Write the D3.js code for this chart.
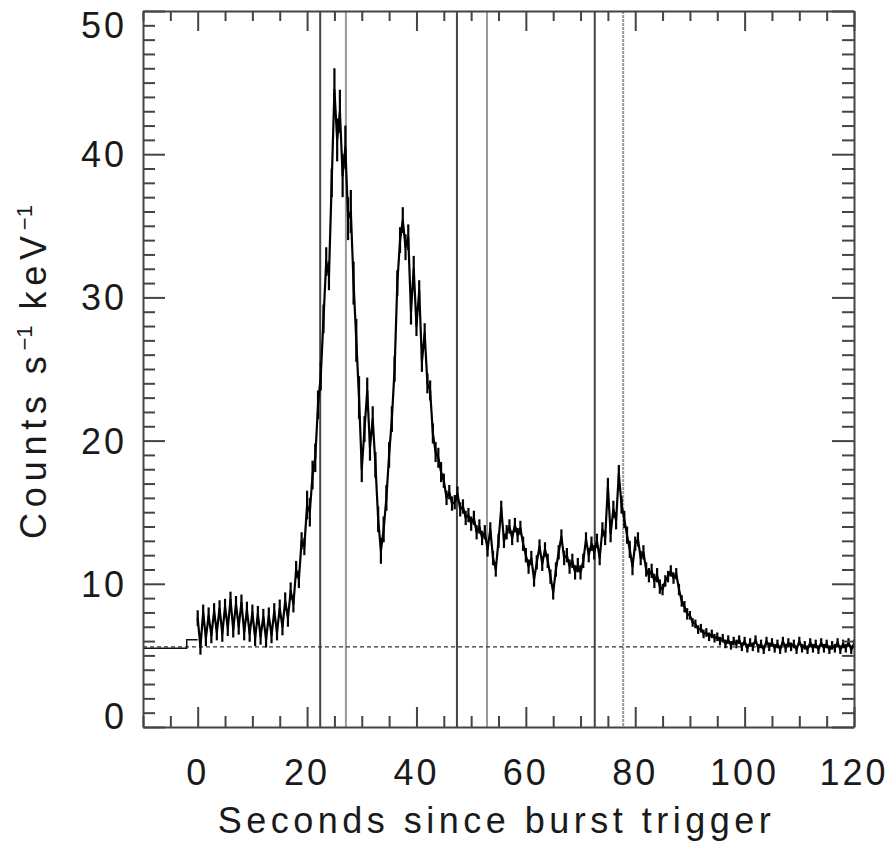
<!DOCTYPE html>
<html>
<head>
<meta charset="utf-8">
<script src="https://cdn.jsdelivr.net/npm/d3@7"></script>
<style>
  body { margin: 0; background: #fff; }
  text { font-family: "Liberation Sans", Arial, sans-serif; fill: #1a1a1a; }
</style>
</head>
<body>
<svg id="chart"></svg>
<script>
// pre-trigger background bins (coarse, drawn as steps)
var preTime = [-10, -2];
var preCounts = [5.5, 6.1];

// light curve after trigger, one value every 0.5 s from t = 0 to 120
var tStart = 0, tStep = 0.5;
var counts = [
  7.6, 5.6, 8.0, 6.2, 7.8, 6.4, 8.1, 6.6, 8.3, 6.5,
  8.4, 6.9, 8.9, 6.8, 8.6, 7.0, 8.7, 6.6, 8.2, 6.5,
  8.0, 6.2, 7.9, 6.3, 7.7, 6.1, 7.8, 6.4, 8.1, 6.6,
  8.3, 7.0, 8.8, 7.6, 9.5, 8.6, 11.0, 10.3, 13.0, 12.6,
  15.5, 15.0, 17.6, 18.8, 22.5, 24.5, 28.5, 32.5, 31.5, 38.0,
  44.5, 41.0, 43.0, 38.5, 40.5, 35.5, 36.0, 31.0, 27.0, 23.0,
  18.0, 20.8, 23.5, 19.5, 21.5, 18.3, 14.5, 12.3, 13.8, 16.0,
  19.0, 21.5, 25.0, 31.0, 34.0, 35.4, 33.5, 34.2, 29.0, 32.0,
  28.0, 30.5, 25.5, 27.5, 24.0, 23.5, 20.5, 19.2, 18.8, 17.8,
  17.2, 16.0, 16.4, 15.6, 15.7, 16.3, 15.2, 15.4, 14.6, 14.8,
  14.2, 14.6, 13.6, 14.0, 13.2, 13.6, 12.4, 13.8, 11.8, 11.0,
  13.0, 15.3, 13.0, 13.6, 14.0, 13.2, 14.1, 13.4, 13.9, 12.8,
  12.0, 11.2, 11.8, 10.3, 11.5, 12.6, 11.4, 12.4, 11.6, 10.5,
  9.4, 11.0, 12.2, 13.3, 11.8, 12.0, 11.2, 11.6, 10.8, 11.3,
  10.8, 11.6, 13.1, 12.0, 12.8, 12.2, 13.0, 11.8, 13.8, 13.2,
  16.8, 13.5, 15.2, 14.4, 17.7, 15.5, 14.5, 13.4, 12.4, 11.2,
  12.8, 13.1, 11.8, 12.2, 11.0, 10.6, 10.9, 10.2, 10.6, 9.8,
  9.6, 10.2, 10.5, 10.9, 10.4, 10.7, 9.6, 8.8, 8.4, 7.9,
  7.8, 7.3, 7.2, 6.8, 6.9, 6.5, 6.6, 6.3, 6.5, 6.2,
  6.3, 6.0, 6.2, 5.8, 6.1, 5.7, 6.0, 5.8, 6.1, 5.6,
  6.0, 5.5, 5.9, 5.6, 6.1, 5.5, 5.8, 5.4, 6.0, 5.6,
  5.9, 5.5, 5.8, 5.4, 6.0, 5.5, 5.9, 5.6, 5.8, 5.4,
  6.0, 5.5, 5.7, 5.4, 5.9, 5.5, 5.8, 5.4, 5.9, 5.5,
  5.8, 5.4, 5.7, 5.5, 5.9, 5.4, 5.8, 5.5, 5.9, 5.4,
  5.8
];

// half-width of the fast scatter around the curve, per 5 s block (0-5, 5-10, ...)
var scatter = [
  0.55, 0.55, 0.55, 0.6, 1.0, 1.5, 0.9, 0.9, 0.7, 0.5,
  0.5, 0.5, 0.5, 0.5, 0.5, 0.6, 0.5, 0.4, 0.3, 0.3,
  0.3, 0.3, 0.3, 0.3
];

var backgroundLevel = 5.6;
var intervalStart = [22.4, 47.4, 72.6];
var intervalEnd = [27.1, 52.9, 77.8];

var xTicks = [0, 20, 40, 60, 80, 100, 120];
var yTicks = [0, 10, 20, 30, 40, 50];
var xTitle = "Seconds since burst trigger";

var width = 891, height = 844;
var pLeft = 143, pRight = 854, pTop = 11, pBottom = 727;

var svg = d3.select("#chart")
  .attr("width", width)
  .attr("height", height)
  .style("background", "#fff");

var x = d3.scaleLinear().domain([-10, 120]).range([pLeft, pRight]);
var y = d3.scaleLinear().domain([0, 50]).range([pBottom, pTop]);

// vertical interval markers
svg.selectAll("line.start")
  .data(intervalStart)
  .enter().append("line")
  .attr("x1", d => x(d)).attr("x2", d => x(d))
  .attr("y1", pTop).attr("y2", pBottom)
  .attr("stroke", "#444").attr("stroke-width", 2);

svg.selectAll("line.end")
  .data(intervalEnd)
  .enter().append("line")
  .attr("x1", d => x(d)).attr("x2", d => x(d))
  .attr("y1", pTop).attr("y2", pBottom)
  .attr("stroke", "#999").attr("stroke-width", 2)
  .attr("stroke-dasharray", (d, i) => i == 2 ? "3,1" : null);

// background level
svg.append("line")
  .attr("x1", pLeft).attr("x2", pRight)
  .attr("y1", y(backgroundLevel)).attr("y2", y(backgroundLevel))
  .attr("stroke", "#333").attr("stroke-width", 1.3)
  .attr("stroke-dasharray", "4,3");

// pre-trigger steps
var prePts = preTime.map((t, i) => [t, preCounts[i]]);
prePts.push([tStart, preCounts[preCounts.length - 1]]);
svg.append("path")
  .datum(prePts)
  .attr("fill", "none")
  .attr("stroke", "#111")
  .attr("stroke-width", 1.5)
  .attr("d", d3.line().x(d => x(d[0])).y(d => y(d[1])).curve(d3.curveStepAfter));

// light curve
var pts = counts.map((c, i) => {
  var t = tStart + i * tStep;
  return { t: t, c: c, s: scatter[Math.min(Math.floor(t / 5), scatter.length - 1)] };
});

svg.selectAll("line.scatter")
  .data(pts)
  .enter().append("line")
  .attr("x1", d => x(d.t)).attr("x2", d => x(d.t))
  .attr("y1", d => y(d.c - d.s)).attr("y2", d => y(d.c + d.s))
  .attr("stroke", "#000").attr("stroke-width", 2.2);

svg.append("path")
  .datum(pts)
  .attr("fill", "none")
  .attr("stroke", "#000")
  .attr("stroke-width", 2.2)
  .attr("stroke-linejoin", "round")
  .attr("d", d3.line().x(d => x(d.t)).y(d => y(d.c)));

// axes: ticks inward on all four sides
var xMinor = d3.range(-10, 121, 5);
var yMinor = d3.range(0, 51, 1);

function isMajorX(t) { return xTicks.indexOf(t) >= 0; }
function isMajorY(v) { return yTicks.indexOf(v) >= 0; }

var axisColor = "#444";

svg.append("g").attr("transform", "translate(0," + pBottom + ")")
  .call(d3.axisTop(x).tickValues(xMinor).tickSizeInner(0).tickSizeOuter(0).tickFormat(""))
  .call(g => g.selectAll(".tick line").attr("y2", d => isMajorX(d) ? -20 : -11))
  .call(g => g.selectAll("line, path").attr("stroke", axisColor).attr("stroke-width", 2));

svg.append("g").attr("transform", "translate(0," + pTop + ")")
  .call(d3.axisBottom(x).tickValues(xMinor).tickSizeInner(0).tickSizeOuter(0).tickFormat(""))
  .call(g => g.selectAll(".tick line").attr("y2", d => isMajorX(d) ? 20 : 10))
  .call(g => g.selectAll("line, path").attr("stroke", axisColor).attr("stroke-width", 2));

svg.append("g").attr("transform", "translate(" + pLeft + ",0)")
  .call(d3.axisRight(y).tickValues(yMinor).tickSizeInner(0).tickSizeOuter(0).tickFormat(""))
  .call(g => g.selectAll(".tick line").attr("x2", d => isMajorY(d) ? 22 : 12))
  .call(g => g.selectAll("line, path").attr("stroke", axisColor).attr("stroke-width", 2));

svg.append("g").attr("transform", "translate(" + pRight + ",0)")
  .call(d3.axisLeft(y).tickValues(yMinor).tickSizeInner(0).tickSizeOuter(0).tickFormat(""))
  .call(g => g.selectAll(".tick line").attr("x2", d => isMajorY(d) ? -22 : -12))
  .call(g => g.selectAll("line, path").attr("stroke", axisColor).attr("stroke-width", 2));

// tick labels
svg.selectAll("text.xl")
  .data(xTicks)
  .enter().append("text")
  .attr("x", d => x(d))
  .attr("y", 785)
  .attr("text-anchor", "middle")
  .attr("font-size", 36)
  .attr("letter-spacing", 3)
  .text(d => d);

svg.selectAll("text.yl")
  .data(yTicks)
  .enter().append("text")
  .attr("x", 127)
  .attr("y", d => Math.min(Math.max(y(d), 25), 716))
  .attr("dy", "0.36em")
  .attr("text-anchor", "end")
  .attr("font-size", 36)
  .attr("letter-spacing", 3)
  .text(d => d);

// axis titles
svg.append("text")
  .attr("x", (pLeft + pRight) / 2 - 2)
  .attr("y", 833)
  .attr("text-anchor", "middle")
  .attr("font-size", 36)
  .attr("letter-spacing", 4.5)
  .text(xTitle);

var yTitle = svg.append("text")
  .attr("transform", "translate(46," + 372 + ") rotate(-90)")
  .attr("text-anchor", "middle")
  .attr("font-size", 36)
  .attr("letter-spacing", 5.8);
yTitle.append("tspan").text("Counts s");
yTitle.append("tspan").attr("dy", -14).attr("font-size", 22).attr("letter-spacing", 0).text("\u22121");
yTitle.append("tspan").attr("dy", 14).text(" keV");
yTitle.append("tspan").attr("dy", -14).attr("font-size", 22).attr("letter-spacing", 0).text("\u22121");
</script>
</body>
</html>
